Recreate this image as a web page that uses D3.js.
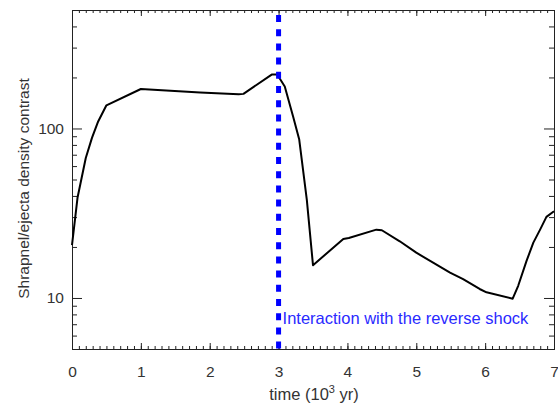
<!DOCTYPE html>
<html>
<head>
<meta charset="utf-8">
<script src="https://cdn.jsdelivr.net/npm/d3@7"></script>
<style>
  body { margin: 0; background: #fff; }
  svg { font-family: "Liberation Sans", Arial, sans-serif; }
</style>
</head>
<body>
<div class="chart"></div>
<script>
// data (time in 10^3 yr, density contrast)
var time = [0, 0.08, 0.2, 0.29, 0.38, 0.5, 1.0, 1.86, 2.42, 2.49, 2.9, 2.98, 3.09, 3.21, 3.3, 3.41, 3.5, 3.94, 4.02, 4.42, 4.5, 4.76, 5.0, 5.49, 5.68, 5.92, 6.02, 6.4, 6.48, 6.6, 6.7, 6.8, 6.89, 7.0];
var contrast = [20.5, 39, 67, 88, 110, 137, 171, 163, 159, 160, 208, 208, 177, 118, 86, 38, 15.6, 22.3, 22.6, 25.3, 25.1, 21.6, 18.5, 14.1, 12.9, 11.3, 10.8, 9.9, 11.8, 16.5, 21.2, 25.4, 30.1, 32.5];
var xTicks = [0, 1, 2, 3, 4, 5, 6, 7];
var yMajor = [10, 100];
var yMinor = [6, 7, 8, 9, 20, 30, 40, 50, 60, 70, 80, 90, 200, 300, 400];
var shockTime = 3;
var shockLabel = 'Interaction with the reverse shock';

var W = 558, H = 410;
var margin = {top: 10, right: 4, bottom: 61, left: 72};
var width = W - margin.left - margin.right;
var height = H - margin.top - margin.bottom;

var svg = d3.select('.chart').append('svg')
    .attr('width', W)
    .attr('height', H)
    .append('g')
    .attr('transform', `translate(${margin.left},${margin.top})`);

var x = d3.scaleLinear().domain([0, 7]).range([0, width]);
var y = d3.scaleLog().domain([5, 500]).range([height, 0]);

var xMinor = d3.range(0, 7.001, 0.1).map(d => +d.toFixed(1));
var axisColor = '#222';

function styleAxis(g) {
    g.select('.domain').attr('stroke', axisColor);
    g.selectAll('.tick line').attr('stroke', axisColor);
    g.selectAll('.tick text').attr('fill', '#333').style('font-size', '15.5px');
}

// bottom axis - minor then major
svg.append('g')
    .attr('transform', `translate(0,${height})`)
    .call(d3.axisBottom(x).tickValues(xMinor).tickSize(-3).tickFormat(''))
    .call(styleAxis);
svg.append('g')
    .attr('transform', `translate(0,${height})`)
    .call(d3.axisBottom(x).tickValues(xTicks).tickSize(-6).tickPadding(17).tickFormat(d3.format('d')))
    .call(styleAxis);

// top axis, no labels
svg.append('g')
    .call(d3.axisTop(x).tickValues(xMinor).tickSize(-3).tickFormat(''))
    .call(styleAxis);
svg.append('g')
    .call(d3.axisTop(x).tickValues(xTicks).tickSize(-6).tickFormat(''))
    .call(styleAxis);

// left axis
svg.append('g')
    .call(d3.axisLeft(y).tickValues(yMinor).tickSize(-5).tickFormat(''))
    .call(styleAxis);
svg.append('g')
    .call(d3.axisLeft(y).tickValues(yMajor).tickSize(-10).tickPadding(8).tickFormat(d3.format('d')))
    .call(styleAxis);

// right axis
svg.append('g')
    .attr('transform', `translate(${width},0)`)
    .call(d3.axisRight(y).tickValues(yMinor).tickSize(-5).tickFormat(''))
    .call(styleAxis);
svg.append('g')
    .attr('transform', `translate(${width},0)`)
    .call(d3.axisRight(y).tickValues(yMajor).tickSize(-10).tickFormat(''))
    .call(styleAxis);

// the curve
var line = d3.line()
    .x((d, i) => x(time[i]))
    .y((d, i) => y(contrast[i]));

svg.append('path')
    .datum(contrast)
    .attr('d', line)
    .attr('fill', 'none')
    .attr('stroke', '#000')
    .attr('stroke-width', 2)
    .attr('stroke-linejoin', 'round');

// reverse shock marker
svg.append('line')
    .attr('x1', x(shockTime))
    .attr('x2', x(shockTime))
    .attr('y1', 5)
    .attr('y2', height)
    .attr('stroke', '#0000ff')
    .attr('stroke-width', 5)
    .attr('stroke-dasharray', '7,7.2');

svg.append('text')
    .attr('x', x(shockTime) + 4)
    .attr('y', 314)
    .text(shockLabel)
    .style('font-size', '16.5px')
    .style('fill', '#2a2aff');

// axis titles
var xt = svg.append('text')
    .attr('x', width / 2 + 1)
    .attr('y', height + 51)
    .attr('text-anchor', 'middle')
    .style('font-size', '16.5px')
    .style('fill', '#333');
xt.append('tspan').text('time (10');
xt.append('tspan').text('3').attr('dy', -7).style('font-size', '11px');
xt.append('tspan').text(' yr)').attr('dy', 7);

svg.append('text')
    .attr('transform', `translate(-43,${height / 2 + 9}) rotate(-90)`)
    .attr('text-anchor', 'middle')
    .style('font-size', '15.5px')
    .style('fill', '#333')
    .text('Shrapnel/ejecta density contrast');
</script>
</body>
</html>
